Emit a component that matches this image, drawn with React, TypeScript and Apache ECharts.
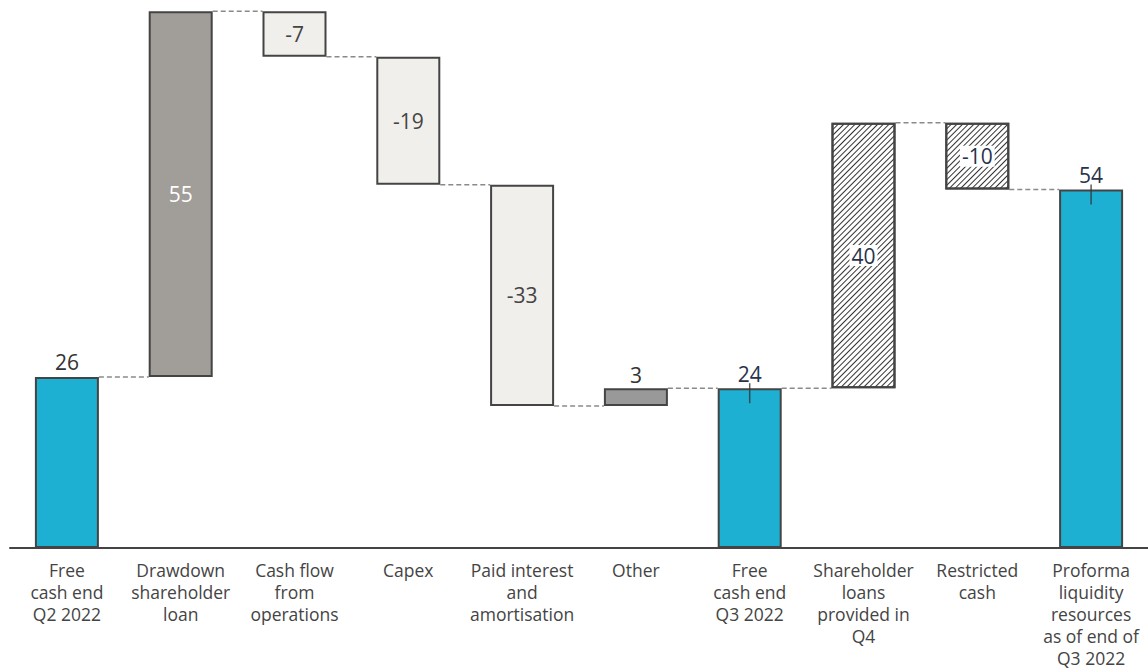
import React, { useEffect, useRef } from "react";
import * as echarts from "echarts";

const categories = [
  "Free\ncash end\nQ2 2022",
  "Drawdown\nshareholder\nloan",
  "Cash flow\nfrom\noperations",
  "Capex",
  "Paid interest\nand\namortisation",
  "Other",
  "Free\ncash end\nQ3 2022",
  "Shareholder\nloans\nprovided in\nQ4",
  "Restricted\ncash",
  "Proforma\nliquidity\nresources\nas of end of\nQ3 2022",
];
const values = [25.9, 55.4, -6.9, -19.4, -33.5, 2.7, 24.2, 40.2, -10.1, 54.3];
const kinds = ["total", "up", "down", "down", "down", "other", "total", "pending", "pending", "total"];
const valueLabels = ["26", "55", "-7", "-19", "-33", "3", "24", "40", "-10", "54"];
const tickBars = [6, 9];

const BLUE = "#1eb0d2";
const BORDER = "#444444";
const FONT = "'Open Sans', Roboto, sans-serif";
const VSIZE = 21;

export default function App() {
  const ref = useRef<HTMLDivElement>(null);
  useEffect(() => {
    if (!ref.current) return;
    const chart = echarts.init(ref.current, null, { renderer: "svg" });

    const bases: number[] = [];
    const heights: number[] = [];
    const levels: number[] = [];
    let level = 0;
    values.forEach((v, i) => {
      if (kinds[i] === "total") {
        bases.push(0);
        heights.push(v);
        level = v;
      } else if (v >= 0) {
        bases.push(level);
        heights.push(v);
        level += v;
      } else {
        level += v;
        bases.push(level);
        heights.push(-v);
      }
      levels.push(+level.toFixed(2));
    });

    const hatch = {
      symbol: "rect",
      symbolSize: 1,
      dashArrayX: [1, 0],
      dashArrayY: [1, 2.6],
      rotation: -Math.PI / 4,
      color: "#333333",
      backgroundColor: "#ffffff",
    };

    const barData = heights.map((h, i) => {
      const k = kinds[i];
      let color = BLUE;
      let label: any = {
        show: true,
        position: "top",
        distance: 4,
        color: "#28334a",
        fontSize: VSIZE,
      };
      const item: any = { value: h };
      if (k === "up") {
        color = "#a19d98";
        label = { show: true, position: "inside", color: "#ffffff", fontSize: VSIZE };
      } else if (k === "down") {
        color = "#f0efeb";
        label = { show: true, position: "inside", color: "#444444", fontSize: VSIZE };
      } else if (k === "other") {
        color = "#999999";
        label = { show: true, position: "top", distance: 3, color: "#333333", fontSize: VSIZE };
      } else if (k === "pending") {
        color = "#ffffff";
        label = {
          show: true,
          position: "inside",
          color: "#28334a",
          fontSize: VSIZE,
          backgroundColor: "#ffffff",
          padding: [0, 2, 0, 2],
        };
      }
      if (i === 0) label.color = "#333333";
      item.itemStyle = { color, borderColor: BORDER, borderWidth: 2 };
      if (k === "pending") item.itemStyle.decal = hatch;
      item.label = { ...label, fontFamily: FONT, formatter: valueLabels[i] };
      return item;
    });

    const connectorData = levels.slice(0, levels.length - 1).map((l, i) => [i, l]);
    const tickData = tickBars.map((i) => [i, values[i]]);

    chart.setOption({
      animation: false,
      grid: { left: 10, top: 0, width: 1140, height: 549, containLabel: false },
      xAxis: {
        type: "category",
        data: categories,
        axisLine: { show: true, lineStyle: { color: "#444444", width: 2 } },
        axisTick: { show: false },
        axisLabel: {
          interval: 0,
          margin: 11,
          color: "#444444",
          fontSize: 17.5,
          lineHeight: 22,
          fontFamily: FONT,
        },
      },
      yAxis: {
        type: "value",
        min: 0,
        max: 83,
        show: false,
        splitLine: { show: false },
      },
      series: [
        {
          type: "bar",
          stack: "wf",
          data: bases,
          barWidth: 64,
          itemStyle: { color: "transparent" },
          emphasis: { disabled: true },
          silent: true,
        },
        {
          type: "bar",
          stack: "wf",
          data: barData,
          barWidth: 64,
          z: 3,
        },
        {
          type: "custom",
          data: connectorData,
          z: 1,
          silent: true,
          renderItem: (params: any, api: any) => {
            const i = api.value(0);
            const l = api.value(1);
            const p1 = api.coord([i, l]);
            const p2 = api.coord([i + 1, l]);
            return {
              type: "line",
              shape: { x1: p1[0] + 32, y1: p1[1], x2: p2[0] - 32, y2: p2[1] },
              style: { stroke: "#8a8a8a", lineWidth: 1.5, lineDash: [5, 3] },
            };
          },
        },
        {
          type: "scatter",
          data: tickData,
          symbol: "rect",
          symbolSize: [1.5, 20],
          symbolOffset: [0, 5],
          itemStyle: { color: "#333333" },
          z: 5,
          silent: true,
        },
      ],
    });
    return () => chart.dispose();
  }, []);
  return (
    <div
      ref={ref}
      style={{ position: "absolute", left: 0, top: 0, width: 1148, height: 669 }}
    />
  );
}
